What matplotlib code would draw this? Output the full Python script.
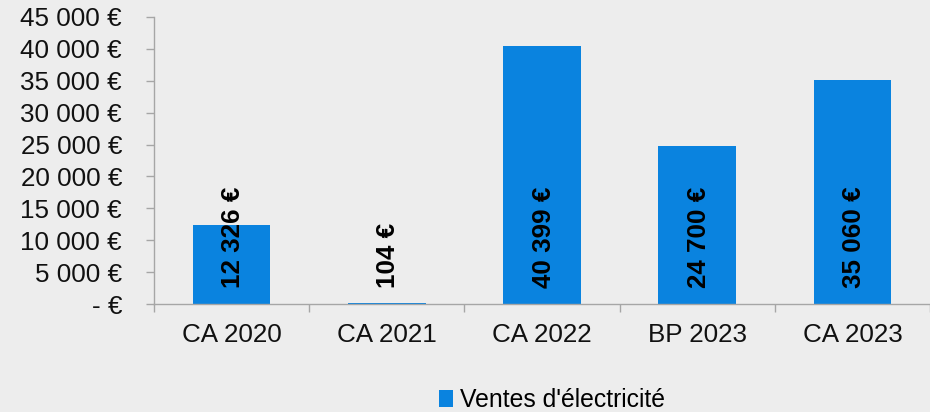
import matplotlib
matplotlib.use("Agg")
import matplotlib.pyplot as plt
from matplotlib.patches import Patch
from matplotlib.ticker import FuncFormatter, FixedLocator

categories = ["CA 2020", "CA 2021", "CA 2022", "BP 2023", "CA 2023"]
values = [12326, 104, 40399, 24700, 35060]
series_name = "Ventes d'électricité"

BG = "#EDEDED"
BAR = "#0A83DF"
GRID = "#A6A6A6"
FS = 18.7

plt.rcParams['font.family'] = ['Liberation Sans', 'DejaVu Sans']

fig = plt.figure(figsize=(9.3, 4.12), dpi=100, facecolor=BG)
ax = fig.add_axes([154/930, 1-304/412, 1-154/930, (304-17)/412])
ax.set_facecolor(BG)

x = list(range(len(categories)))
ax.bar(x, values, width=0.5, color=BAR, zorder=2)

def fmt_eur(v):
    v = int(round(v))
    if v == 0:
        return "- €"
    return f"{v:,}".replace(",", " ") + " €"

for xi, v in zip(x, values):
    ax.text(xi + 0.01, 2500, fmt_eur(v), rotation=90, ha='center', va='bottom',
            fontsize=FS, fontweight='bold', color='black', zorder=3)

ax.set_xlim(-0.5, len(categories) - 0.5)
ax.set_ylim(0, 45000)
ax.set_yticks(range(0, 45001, 5000))
ax.yaxis.set_major_formatter(FuncFormatter(lambda v, p: fmt_eur(v)))
ax.set_xticks(x)
ax.set_xticklabels(categories)
ax.xaxis.set_minor_locator(FixedLocator([i - 0.5 for i in range(len(categories) + 1)]))

ax.tick_params(axis='y', which='major', length=6, width=1, color=GRID, pad=17,
               labelsize=FS, labelcolor='#111111')
ax.tick_params(axis='x', which='major', length=0, pad=14, labelsize=FS, labelcolor='#111111')
ax.tick_params(axis='x', which='minor', length=6, width=1, color=GRID)

for s in ['top', 'right']:
    ax.spines[s].set_visible(False)
for s in ['left', 'bottom']:
    ax.spines[s].set_color(GRID)
    ax.spines[s].set_linewidth(1)

handle = Patch(facecolor=BAR, edgecolor='none')
fig.legend([handle], [series_name], loc='center', bbox_to_anchor=(552/930, 1-400/412),
           frameon=False, fontsize=17.8, handlelength=0.55, handleheight=0.65,
           handletextpad=0.3, borderpad=0)

fig.savefig("out.png", dpi=100, facecolor=BG)
